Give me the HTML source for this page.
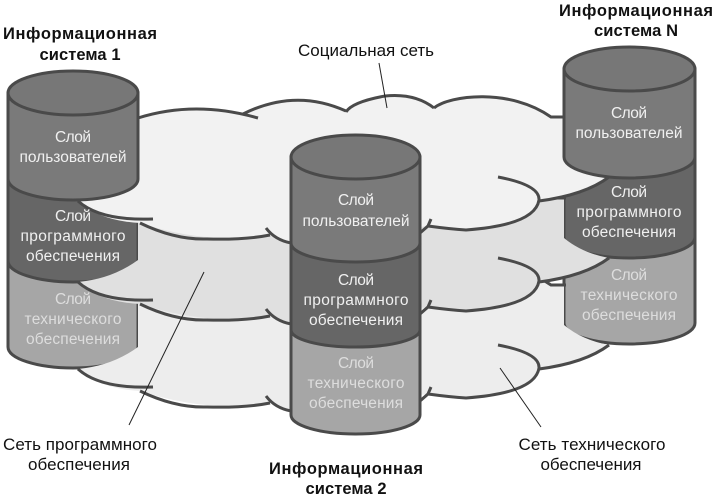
<!DOCTYPE html>
<html><head><meta charset="utf-8"><style>
html,body{margin:0;padding:0;background:#fff}
svg{display:block}
.c{fill:none;stroke:#4a4a4a;stroke-width:3}
.w text{fill:#f0f0f0;font:15.5px "Liberation Sans","Noto Sans CJK SC",sans-serif;text-anchor:middle}
.b{font:bold 16.5px "Liberation Sans","Noto Sans CJK SC",sans-serif;fill:#111;text-anchor:middle}
.r{font:17px "Liberation Sans","Noto Sans CJK SC",sans-serif;fill:#111;text-anchor:middle}
</style></head><body>
<svg width="716" height="500" viewBox="0 0 716 500" xmlns="http://www.w3.org/2000/svg">
<defs>
<path id="f" d="M78,201Q112,198 138,179L138,118Q195,100 243,114Q295,88 346,111Q352,102 385,96Q415,93 434,108C450,95 510,88 551,117L564,117L564,157Q582,172 609,177Q585,195 539,201Q535,225 466,230Q450,229 428,226L291,243L270,235Q207,245 140,223Q100,221 78,201Z"/>
<g id="s" class="c">
<path d="M138,118Q195,100 258,118"/>
<path d="M243,114Q295,88 346,111"/>
<path d="M346,112Q352,102 385,96Q415,93 434,108"/>
<path d="M434,108C450,95 510,88 551,117L566,117"/>
<path d="M609,177Q585,195 539,201"/>
<path d="M498,177Q540,185 539,200Q535,225 466,230Q450,229 428,226L420,233M431,219L428,226"/>
<path d="M291,243Q275,240 266,228"/>
<path d="M140,223Q175,240 207,239Q245,240 270,235"/>
<path d="M78,201Q100,221 153,219"/>
</g>
</defs>

<!-- tech layers 1, N -->
<path class="c" style="fill:#a6a6a6" d="M8,240V347A65,21 0 0 0 138,347V240Z"/>
<path class="c" style="fill:#a6a6a6" d="M564,220V323A65.500,21 0 0 0 695,323V220Z"/>
<!-- bottom cloud -->
<use href="#f" y="168" fill="#ededed"/><use href="#s" y="168"/>
<!-- program layers 1, N -->
<path class="c" style="fill:#666" d="M8,160V261A65,21 0 0 0 138,261V160Z"/>
<path class="c" style="fill:#666" d="M564,140V237A65.500,21 0 0 0 695,237V140Z"/>
<!-- middle cloud -->
<use href="#f" y="81" fill="#e0e0e0"/><use href="#s" y="81"/>
<!-- top cloud -->
<use href="#f" fill="#f2f2f2"/><use href="#s"/>
<!-- user layers 1, N -->
<path class="c" style="fill:#7a7a7a" d="M8,93V179A65,21 0 0 0 138,179V93Z"/>
<ellipse class="c" style="fill:#777" cx="73" cy="93" rx="65" ry="22"/>
<path class="c" style="fill:#7a7a7a" d="M564,69V157A65.500,21 0 0 0 695,157V69Z"/>
<ellipse class="c" style="fill:#777" cx="629.500" cy="69" rx="65.500" ry="22"/>
<!-- cylinder 2 -->
<path class="c" style="fill:#a6a6a6" d="M291,320V415A64.500,19 0 0 0 420,415V320Z"/>
<path class="c" style="fill:#666" d="M291,240V330A64.500,17 0 0 0 420,330V240Z"/>
<path class="c" style="fill:#7a7a7a" d="M291,157V243A64.500,19 0 0 0 420,243V157Z"/>
<ellipse class="c" style="fill:#777" cx="355.500" cy="157" rx="64.500" ry="22"/>

<g stroke="#222" stroke-width="1" fill="none">
<path d="M379,63L387,108"/><path d="M204,272L129,425"/><path d="M500,368L541,427"/>
</g>

<g class="w">
<text x="73" y="142" textLength="36">Слой</text>
<text x="73" y="162" textLength="107">пользователей</text>
<text x="73" y="221" textLength="36">Слой</text>
<text x="73" y="241" textLength="105">программного</text>
<text x="73" y="261" textLength="94">обеспечения</text>
<text x="73" y="304" textLength="36" style="fill:#ddd">Слой</text>
<text x="73" y="324" textLength="97" style="fill:#ddd">технического</text>
<text x="73" y="344" textLength="94" style="fill:#ddd">обеспечения</text>

<text x="356" y="205" textLength="36">Слой</text>
<text x="356" y="226" textLength="107">пользователей</text>
<text x="356" y="285" textLength="36">Слой</text>
<text x="356" y="305" textLength="105">программного</text>
<text x="356" y="325" textLength="94">обеспечения</text>
<text x="356" y="368" textLength="36" style="fill:#ddd">Слой</text>
<text x="356" y="388" textLength="97" style="fill:#ddd">технического</text>
<text x="356" y="408" textLength="94" style="fill:#ddd">обеспечения</text>

<text x="629" y="118" textLength="36">Слой</text>
<text x="629" y="138" textLength="107">пользователей</text>
<text x="629" y="197" textLength="36">Слой</text>
<text x="629" y="217" textLength="105">программного</text>
<text x="629" y="237" textLength="94">обеспечения</text>
<text x="629" y="280" textLength="36" style="fill:#ddd">Слой</text>
<text x="629" y="300" textLength="97" style="fill:#ddd">технического</text>
<text x="629" y="320" textLength="94" style="fill:#ddd">обеспечения</text>
</g>

<text class="b" x="80" y="39" textLength="154">Информационная</text>
<text class="b" x="80" y="60" textLength="81">система 1</text>
<text class="b" x="636" y="16" textLength="154">Информационная</text>
<text class="b" x="636" y="36" textLength="84">система N</text>
<text class="b" x="346" y="474" textLength="154">Информационная</text>
<text class="b" x="346" y="494" textLength="81">система 2</text>
<text class="r" x="366" y="56" textLength="136">Социальная сеть</text>
<text class="r" x="80" y="450" textLength="154">Сеть программного</text>
<text class="r" x="79" y="470" textLength="102">обеспечения</text>
<text class="r" x="592" y="450" textLength="147">Сеть технического</text>
<text class="r" x="591" y="470" textLength="101">обеспечения</text>
</svg>
</body></html>
